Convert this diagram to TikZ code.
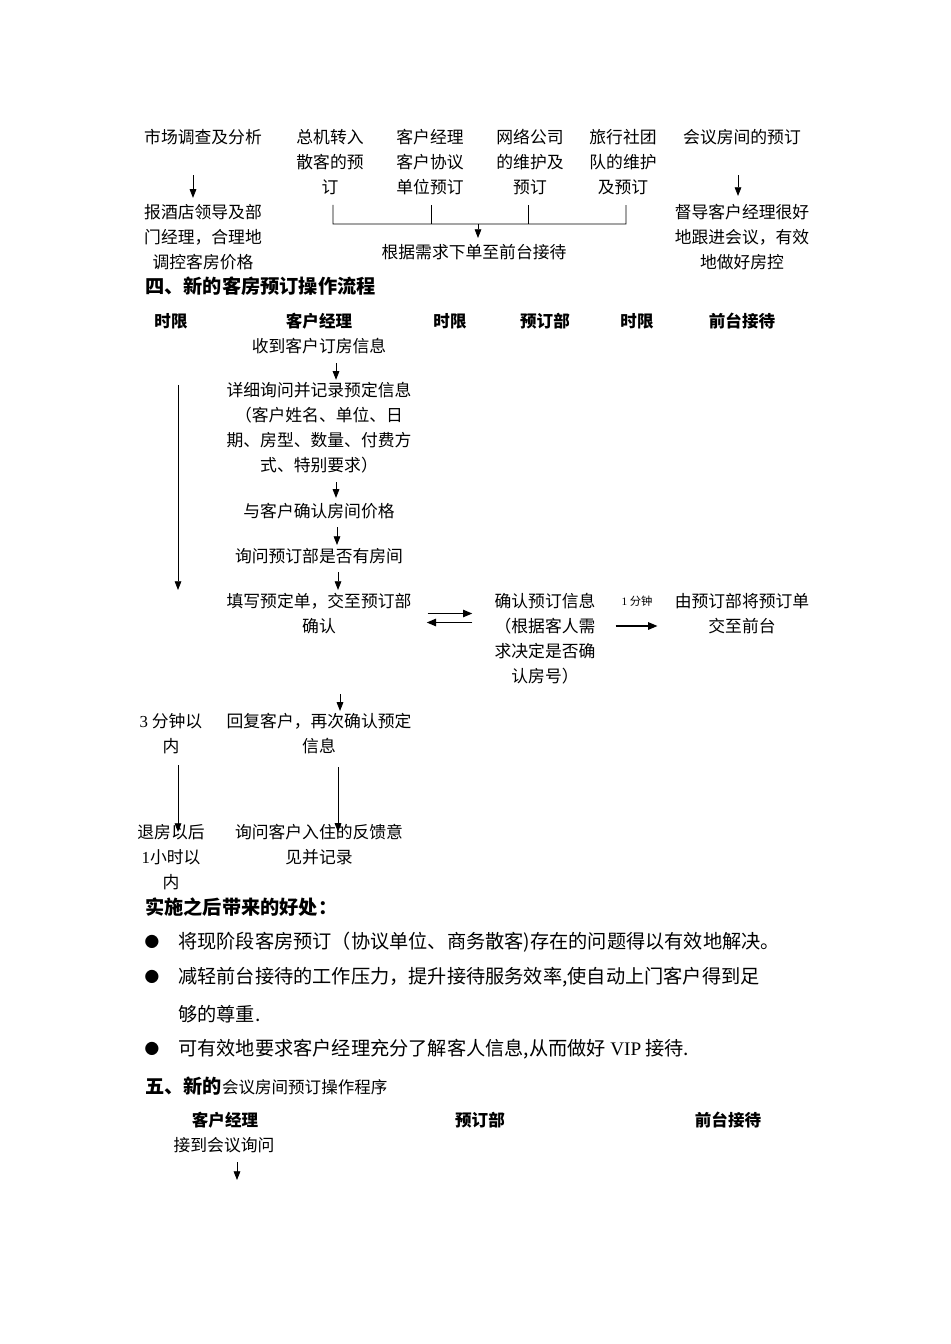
\documentclass[tikz,border=0pt]{standalone}
\usepackage{fontspec}
\setmainfont{Noto Sans CJK SC}
\newfontfamily\lat{Liberation Serif}
\usepackage{tikz}
\usetikzlibrary{arrows.meta,calc}

\tikzset{
  txt/.style={font=\fontsize{12.6}{18.75}\selectfont, align=center, inner sep=0pt},
  hd/.style={font=\fontsize{12.4}{18.75}\selectfont\bfseries, inner sep=0pt},
  para/.style={font=\fontsize{14.4}{18}\selectfont, anchor=west, inner sep=0pt},
  title/.style={para, font=\fontsize{14.4}{18}\selectfont\bfseries},
  small/.style={font=\fontsize{8.5}{10}\selectfont, inner sep=0pt},
  bul/.style={font=\fontsize{11}{14}\selectfont, inner sep=0pt},
  arr/.style={-{Triangle[length=6.5pt,width=5pt]}, line width=0.6pt},
  darr/.style={-{Triangle[length=7pt,width=5.5pt]}, line width=1.2pt},
}

\begin{document}
\begin{tikzpicture}[x=0.75pt,y=-0.75pt]
\useasboundingbox (0,0) rectangle (950,1344);

% sources of bookings
\node[txt] (mkt) at (203,137) {市场调查及分析};
\node[txt] (mktres) at (203,237) {报酒店领导及部\\门经理，合理地\\调控客房价格};
\node[txt] (sw) at (330,162) {总机转入\\散客的预\\订};
\node[txt] (mgr) at (430,162) {客户经理\\客户协议\\单位预订};
\node[txt] (net) at (530,162) {网络公司\\的维护及\\预订};
\node[txt] (trv) at (623,162) {旅行社团\\队的维护\\及预订};
\node[txt] (mtg) at (742,137) {会议房间的预订};
\node[txt] (mtgres) at (742,237) {督导客户经理很好\\地跟进会议，有效\\地做好房控};
\node[txt] (demand) at (474,252) {根据需求下单至前台接待};
\coordinate (join) at (478,224);

\draw[arr] ([shift={(-10,30)}]mkt.south) -- ([shift={(-10,-6)}]mktres.north);
\draw[arr] ([shift={(-4,30)}]mtg.south) -- ([shift={(-4,-8)}]mtgres.north);
\draw[line width=0.6pt] ([shift={(3,10)}]sw.south) -- ([shift={(3,29)}]sw.south)
  -- ([shift={(3,29)}]trv.south) -- ([shift={(3,10)}]trv.south);
\draw[line width=0.6pt] ([shift={(1,10)}]mgr.south) -- ++(0,19);
\draw[line width=0.6pt] ([shift={(-2,10)}]net.south) -- ++(0,19);
\draw[arr] (join) -- ([shift={(4,-6)}]demand.north);

% section 4
\node[title] (sec4) at (145,286) {四、新的客房预订操作流程};
\node[hd] (lim1) at (171,321) {时限};
\node[hd] (cm) at (319,321) {客户经理};
\node[hd] (lim2) at (450,321) {时限};
\node[hd] (rd) at (545,321) {预订部};
\node[hd] (lim3) at (637,321) {时限};
\node[hd] (fd) at (742,321) {前台接待};

\node[txt] (recv) at (319,346) {收到客户订房信息};
\node[txt] (detail) at (319,428) {详细询问并记录预定信息\\（客户姓名、单位、日\\期、房型、数量、付费方\\式、特别要求）};
\node[txt] (price) at (319,511) {与客户确认房间价格};
\node[txt] (ask) at (319,556) {询问预订部是否有房间};
\node[txt] (fill) at (319,613.5) {填写预定单，交至预订部\\确认};
\node[txt] (conf) at (545,638.5) {确认预订信息\\（根据客人需\\求决定是否确\\认房号）};
\node[small] (onemin) at (637,601) {{\lat 1} 分钟};
\node[txt] (pass) at (742,613.5) {由预订部将预订单\\交至前台};
\node[txt] (t3) at (171,733.5) {{\lat 3} 分钟以\\内};
\node[txt] (reply) at (319,733.5) {回复客户，再次确认预定\\信息};
\node[txt] (t60) at (171,857) {退房以后\\{\lat 1}小时以\\内};
\node[txt] (fb) at (319,844.5) {询问客户入住的反馈意\\见并记录};

\draw[arr] ([shift={(17,9)}]recv.south) -- ([shift={(17,-2.5)}]detail.north);
\draw[arr] ([shift={(17,8.5)}]detail.south) -- ([shift={(17,-5)}]price.north);
\draw[arr] ([shift={(18,8)}]price.south) -- ([shift={(18,-3)}]ask.north);
\draw[arr] ([shift={(19,8)}]ask.south) -- ([shift={(19,-3)}]fill.north);
\draw[arr] ([shift={(21,60)}]fill.south) -- ([shift={(21,-2)}]reply.north);
\draw[arr] ([shift={(19,13)}]reply.south) -- ([shift={(19,8)}]fb.north);
\draw[arr] ($(lim1.south |- detail.north)+(7,2.5)$) -- ($(lim1.south |- fill.north)+(7,-3)$);
\draw[arr] ([shift={(7,11)}]t3.south) -- ([shift={(7,8)}]t60.north);
\draw[darr] ($(fill.east)+(16,0)$) -- ($(conf.west |- fill.east)+(-22,0)$);
\draw[darr] ($(conf.west |- fill.east)+(-22,9)$) -- ($(fill.east)+(15,9)$);
\draw[darr] ($(conf.east |- pass.west)+(20,12.5)$) -- ($(pass.west)+(-17,12.5)$);

% benefits
\node[title] (gain) at (145,907) {实施之后带来的好处：};
\node[bul] (b1) at (152,942) {●};
\node[bul] (b2) at (152,977) {●};
\node[bul] (b3) at (152,1049) {●};
\node[para] (g1) at (178,942) {将现阶段客房预订（协议单位、商务散客)存在的问题得以有效地解决。};
\node[para] (g2) at (178,977) {减轻前台接待的工作压力，提升接待服务效率,使自动上门客户得到足};
\node[para] (g2b) at (178,1014) {够的尊重.};
\node[para] (g3) at (178,1049) {可有效地要求客户经理充分了解客人信息,从而做好 {\lat VIP} 接待.};

% section 5
\node[para] (sec5) at (145,1086) {{\bfseries 五、新的}{\fontsize{12.4}{18}\selectfont 会议房间预订操作程序}};
\node[hd] (cm2) at (225,1120) {客户经理};
\node[hd] (rd2) at (480,1120) {预订部};
\node[hd] (fd2) at (728,1120) {前台接待};
\node[txt] (inq) at (224,1145) {接到会议询问};
\coordinate (inqnext) at (237,1180);
\draw[arr] ([shift={(13,9)}]inq.south) -- (inqnext);
\end{tikzpicture}
\end{document}
